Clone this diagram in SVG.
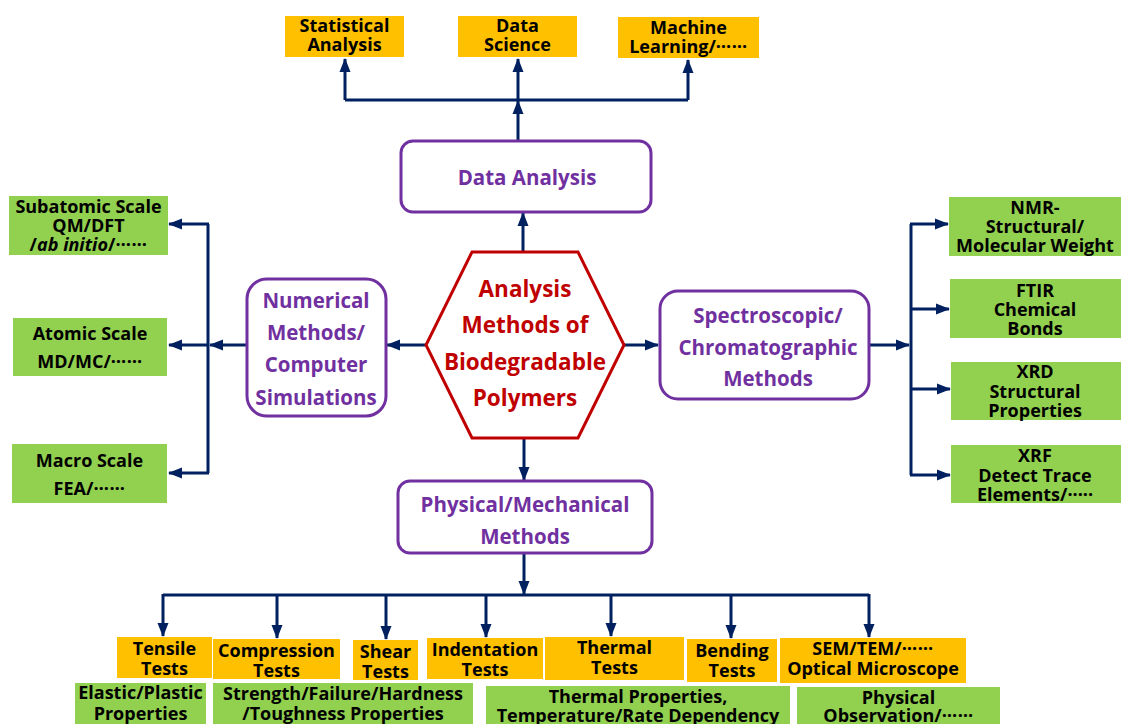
<svg xmlns="http://www.w3.org/2000/svg" width="1123" height="724" viewBox="0 0 1123 724">
<defs>
<marker id="ah" markerUnits="userSpaceOnUse" markerWidth="14" markerHeight="14" viewBox="0 0 14 14" refX="13" refY="7" orient="auto">
<path d="M0,1.5 L14,7 L0,12.5 Z" fill="#002060"/>
</marker>
<style>
.c{fill:none;stroke:#002060;stroke-width:3}
.or{fill:#FFC000}
.gr{fill:#92D050}
.pb{fill:#fff;stroke:#7030A0;stroke-width:3}
.t{font-family:"Open Sans","Liberation Sans",sans-serif;font-weight:bold;font-size:18px;fill:#000;text-anchor:middle;dominant-baseline:central}
.p{font-family:"Open Sans","Liberation Sans",sans-serif;font-weight:bold;font-size:20.5px;fill:#7030A0;text-anchor:middle;dominant-baseline:central}
.r{font-family:"Open Sans","Liberation Sans",sans-serif;font-weight:bold;font-size:22.5px;fill:#C00000;text-anchor:middle;dominant-baseline:central}
.e{letter-spacing:0.6px}
</style>
</defs>
<rect width="1123" height="724" fill="#fff"/>
<g id="connectors">
<path class="c" d="M523,252 V213" marker-end="url(#ah)"/>
<path class="c" d="M518,141 V101" marker-end="url(#ah)"/>
<path class="c" d="M345,100 H688"/>
<path class="c" d="M345,100 V59" marker-end="url(#ah)"/>
<path class="c" d="M518,100 V59" marker-end="url(#ah)"/>
<path class="c" d="M688,100 V60" marker-end="url(#ah)"/>
<path class="c" d="M426,345 H387" marker-end="url(#ah)"/>
<path class="c" d="M246,345 H210" marker-end="url(#ah)"/>
<path class="c" d="M208,224 V473"/>
<path class="c" d="M209,224 H169" marker-end="url(#ah)"/>
<path class="c" d="M209,345 H169" marker-end="url(#ah)"/>
<path class="c" d="M209,473 H169" marker-end="url(#ah)"/>
<path class="c" d="M624,345 H658" marker-end="url(#ah)"/>
<path class="c" d="M869,345 H909" marker-end="url(#ah)"/>
<path class="c" d="M911,224 V475"/>
<path class="c" d="M910,224 H948" marker-end="url(#ah)"/>
<path class="c" d="M910,309 H949" marker-end="url(#ah)"/>
<path class="c" d="M910,389 H950" marker-end="url(#ah)"/>
<path class="c" d="M910,475 H950" marker-end="url(#ah)"/>
<path class="c" d="M524,438 V480" marker-end="url(#ah)"/>
<path class="c" d="M524,553 V594" marker-end="url(#ah)"/>
<path class="c" d="M163,595 H869"/>
<path class="c" d="M163,594 V636" marker-end="url(#ah)"/>
<path class="c" d="M277,594 V638" marker-end="url(#ah)"/>
<path class="c" d="M386,594 V639" marker-end="url(#ah)"/>
<path class="c" d="M486,594 V637" marker-end="url(#ah)"/>
<path class="c" d="M611,594 V636" marker-end="url(#ah)"/>
<path class="c" d="M731,594 V638" marker-end="url(#ah)"/>
<path class="c" d="M869,594 V637" marker-end="url(#ah)"/>
</g>
<g id="center">
<polygon points="472,252 578,252 624,345 578,438 472,438 426,345" fill="#fff" stroke="#C00000" stroke-width="3"/>
<text class="r" x="525" y="288">Analysis</text>
<text class="r" x="525" y="324">Methods of</text>
<text class="r" x="525" y="361">Biodegradable</text>
<text class="r" x="525" y="397">Polymers</text>
</g>
<g id="data-analysis">
<rect class="pb" x="401" y="141" width="250" height="71" rx="12"/>
<text class="p" x="527" y="177">Data Analysis</text>
</g>
<g id="numerical">
<rect class="pb" x="247" y="279" width="139" height="137" rx="20"/>
<text class="p" x="316" y="300">Numerical</text>
<text class="p" x="316" y="332">Methods/</text>
<text class="p" x="316" y="364">Computer</text>
<text class="p" x="316" y="397">Simulations</text>
</g>
<g id="spectroscopic">
<rect class="pb" x="660" y="291" width="209" height="108" rx="18"/>
<text class="p" x="768" y="315">Spectroscopic/</text>
<text class="p" x="768" y="347">Chromatographic</text>
<text class="p" x="768" y="378">Methods</text>
</g>
<g id="physical">
<rect class="pb" x="398" y="481" width="254" height="72" rx="12"/>
<text class="p" x="525" y="504">Physical/Mechanical</text>
<text class="p" x="525" y="536">Methods</text>
</g>
<g id="statistical">
<rect class="or" x="285" y="16" width="119" height="41"/>
<text class="t" x="344.5" y="25">Statistical</text>
<text class="t" x="344.5" y="44">Analysis</text>
</g>
<g id="data-science">
<rect class="or" x="458" y="16" width="119" height="41"/>
<text class="t" x="517.5" y="25">Data</text>
<text class="t" x="517.5" y="44">Science</text>
</g>
<g id="machine-learning">
<rect class="or" x="618" y="17" width="141" height="41"/>
<text class="t" x="688.5" y="27">Machine</text>
<text class="t" x="688.5" y="46">Learning/<tspan class="e" dy="-5">……</tspan></text>
</g>
<g id="subatomic">
<rect class="gr" x="9" y="196" width="159" height="59"/>
<text class="t" x="88.5" y="206">Subatomic Scale</text>
<text class="t" x="88.5" y="225">QM/DFT</text>
<text class="t" x="88.5" y="244">/<tspan font-style="italic">ab initio</tspan>/<tspan class="e" dy="-5">……</tspan></text>
</g>
<g id="atomic">
<rect class="gr" x="13" y="318" width="154" height="58"/>
<text class="t" x="90" y="333">Atomic Scale</text>
<text class="t" x="90" y="361">MD/MC/<tspan class="e" dy="-5">……</tspan></text>
</g>
<g id="macro">
<rect class="gr" x="12" y="444" width="155" height="59"/>
<text class="t" x="89.5" y="460">Macro Scale</text>
<text class="t" x="89.5" y="488">FEA/<tspan class="e" dy="-5">……</tspan></text>
</g>
<g id="nmr">
<rect class="gr" x="949" y="197" width="172" height="59"/>
<text class="t" x="1035" y="207">NMR-</text>
<text class="t" x="1035" y="226">Structural/</text>
<text class="t" x="1035" y="245">Molecular Weight</text>
</g>
<g id="ftir">
<rect class="gr" x="950" y="279" width="171" height="59"/>
<text class="t" x="1035" y="290">FTIR</text>
<text class="t" x="1035" y="309">Chemical</text>
<text class="t" x="1035" y="328">Bonds</text>
</g>
<g id="xrd">
<rect class="gr" x="951" y="362" width="170" height="58"/>
<text class="t" x="1035" y="371">XRD</text>
<text class="t" x="1035" y="391">Structural</text>
<text class="t" x="1035" y="410">Properties</text>
</g>
<g id="xrf">
<rect class="gr" x="951" y="445" width="170" height="58"/>
<text class="t" x="1035" y="455">XRF</text>
<text class="t" x="1035" y="475">Detect Trace</text>
<text class="t" x="1035" y="494">Elements/·····</text>
</g>
<g id="tensile">
<rect class="or" x="117" y="637" width="95" height="41"/>
<text class="t" x="164.5" y="648">Tensile</text>
<text class="t" x="164.5" y="668">Tests</text>
</g>
<g id="compression">
<rect class="or" x="213" y="639" width="127" height="40"/>
<text class="t" x="276.5" y="650">Compression</text>
<text class="t" x="276.5" y="670">Tests</text>
</g>
<g id="shear">
<rect class="or" x="353" y="640" width="65" height="40"/>
<text class="t" x="385.5" y="651">Shear</text>
<text class="t" x="385.5" y="671">Tests</text>
</g>
<g id="indentation">
<rect class="or" x="427" y="638" width="116" height="41"/>
<text class="t" x="485" y="649">Indentation</text>
<text class="t" x="485" y="669">Tests</text>
</g>
<g id="thermal">
<rect class="or" x="545" y="637" width="139" height="43"/>
<text class="t" x="614.5" y="647">Thermal</text>
<text class="t" x="614.5" y="667">Tests</text>
</g>
<g id="bending">
<rect class="or" x="687" y="639" width="90" height="43"/>
<text class="t" x="732" y="650">Bending</text>
<text class="t" x="732" y="670">Tests</text>
</g>
<g id="sem">
<rect class="or" x="780" y="638" width="186" height="45"/>
<text class="t" x="873" y="648">SEM/TEM/<tspan class="e" dy="-5">……</tspan></text>
<text class="t" x="873" y="668">Optical Microscope</text>
</g>
<g id="elastic">
<rect class="gr" x="75" y="683" width="131" height="45"/>
<text class="t" x="140.5" y="692">Elastic/Plastic</text>
<text class="t" x="140.5" y="713">Properties</text>
</g>
<g id="strength">
<rect class="gr" x="213" y="683" width="260" height="45"/>
<text class="t" x="343" y="693">Strength/Failure/Hardness</text>
<text class="t" x="343" y="713">/Toughness Properties</text>
</g>
<g id="thermal-props">
<rect class="gr" x="486" y="686" width="304" height="42"/>
<text class="t" x="638" y="696">Thermal Properties,</text>
<text class="t" x="638" y="715">Temperature/Rate Dependency</text>
</g>
<g id="observation">
<rect class="gr" x="797" y="687" width="203" height="41"/>
<text class="t" x="898.5" y="697">Physical</text>
<text class="t" x="898.5" y="715">Observation/<tspan class="e" dy="-5">……</tspan></text>
</g>
</svg>
